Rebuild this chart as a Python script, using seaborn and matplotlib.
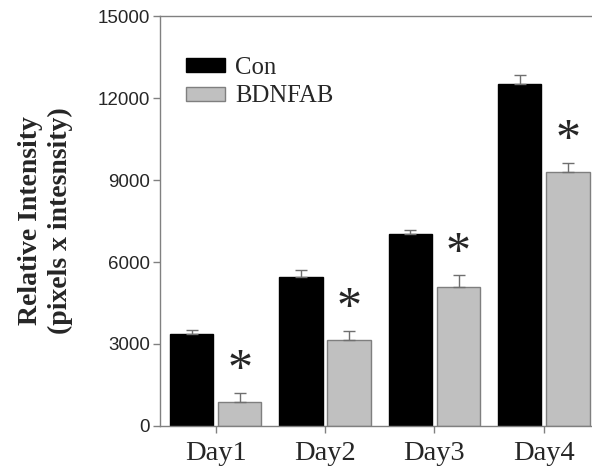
import matplotlib

matplotlib.use("Agg")

import matplotlib.pyplot as plt
import pandas as pd
import seaborn as sns

days = ["Day1", "Day2", "Day3", "Day4"]
groups = ["Con", "BDNFAB"]
con_mean = [3360, 5440, 7030, 12500]
con_err = [150, 250, 150, 330]
ab_mean = [870, 3150, 5070, 9300]
ab_err = [350, 330, 440, 330]
significant = [True, True, True, True]

colors = {"Con": "#000000", "BDNFAB": "#c0c0c0"}
edges = {"Con": "#000000", "BDNFAB": "#7f7f7f"}

frame = pd.DataFrame({
    "day": days * 2,
    "group": ["Con"] * 4 + ["BDNFAB"] * 4,
    "value": con_mean + ab_mean,
    "err": con_err + ab_err,
})

sns.set_style("white")
plt.rcParams["font.family"] = ["Liberation Sans", "DejaVu Sans"]

fig = plt.figure(figsize=(5.92, 4.72), dpi=100)
ax = fig.add_axes([0.270, 0.0975, 0.73, 0.8685])

sns.barplot(
    data=frame, x="day", y="value", hue="group", order=days, hue_order=groups,
    palette=colors, width=0.88, gap=0.1, errorbar=None, ax=ax, legend=False,
    linewidth=1.0,
)

# bar edges and upper-only error bars
for container, name in zip(ax.containers, groups):
    sub = frame[frame["group"] == name]
    for patch, val, err in zip(container.patches, sub["value"], sub["err"]):
        patch.set_edgecolor(edges[name])
        cx = patch.get_x() + patch.get_width() / 2
        ax.errorbar(cx, val, yerr=[[0], [err]], fmt="none", ecolor="#6f6f6f",
                    elinewidth=1.0, capsize=4.5, capthick=1.0, zorder=3)

# significance stars above BDNFAB bars
ab_bars = ax.containers[1].patches
for patch, val, err, sig in zip(ab_bars, ab_mean, ab_err, significant):
    if not sig:
        continue
    cx = patch.get_x() + patch.get_width() / 2
    ax.annotate("*", (cx, val + err), xytext=(0, -1), textcoords="offset points",
                ha="center", va="bottom", fontsize=36, family="Liberation Serif")

ax.set_ylim(0, 15000)
ax.set_xlim(-0.51, 3.44)
ax.set_yticks([0, 3000, 6000, 9000, 12000, 15000])
ax.set_xlabel("")
ax.set_ylabel("Relative Intensity\n(pixels x intesnsity)", family="Liberation Serif",
              fontsize=20, fontweight="bold", labelpad=18, linespacing=1.25)

for side in ["left", "top", "bottom"]:
    ax.spines[side].set_color("#808080")
    ax.spines[side].set_linewidth(1.0)
ax.spines["right"].set_visible(False)

ax.tick_params(axis="y", direction="out", length=5, width=1, color="#808080",
               labelsize=13.5, pad=2, left=True)
ax.tick_params(axis="x", direction="out", length=5, width=1, color="#808080",
               labelsize=20.5, pad=6, bottom=True)
for lab in ax.get_xticklabels():
    lab.set_family("Liberation Serif")

handles = [plt.Rectangle((0, 0), 1, 1, facecolor=colors[g], edgecolor=edges[g]) for g in groups]
ax.legend(handles, groups, loc="upper left", bbox_to_anchor=(0.009, 0.955), frameon=False,
          prop={"family": "Liberation Serif", "size": 17.8}, handlelength=1.58,
          handleheight=0.5, handletextpad=0.4, labelspacing=0.27)

fig.savefig("out.png", dpi=100)
